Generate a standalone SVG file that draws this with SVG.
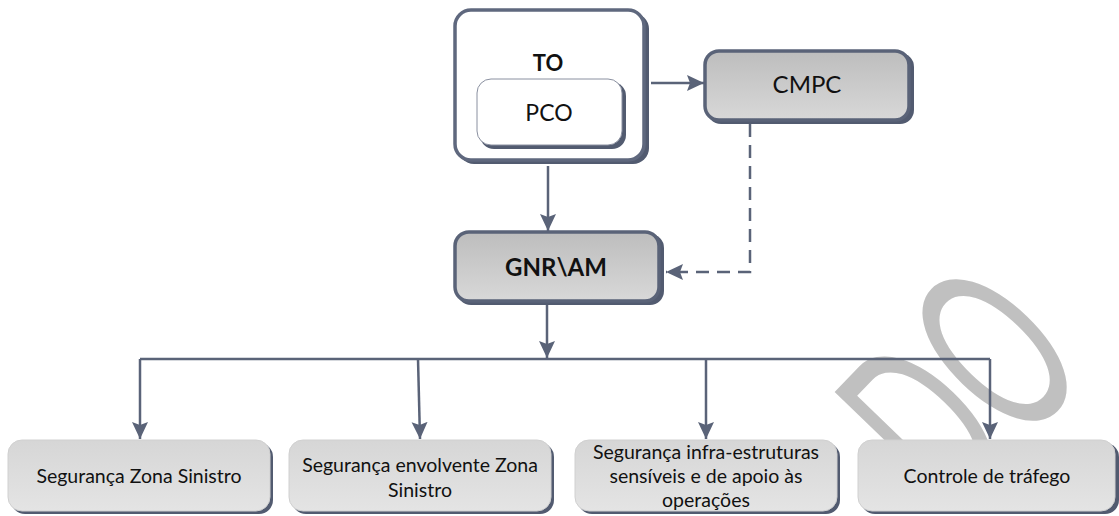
<svg xmlns="http://www.w3.org/2000/svg" width="1119" height="516" viewBox="0 0 1119 516">
  <defs>
    <linearGradient id="gDark" x1="0" y1="0" x2="0" y2="1">
      <stop offset="0" stop-color="#bdbdbd"/>
      <stop offset="1" stop-color="#d8d8d8"/>
    </linearGradient>
    <linearGradient id="gLight" x1="0" y1="0" x2="0" y2="1">
      <stop offset="0" stop-color="#d6d6d6"/>
      <stop offset="1" stop-color="#e4e4e4"/>
    </linearGradient>
    <marker id="arr" viewBox="0 0 18 18" refX="17" refY="9" markerWidth="18" markerHeight="18" markerUnits="userSpaceOnUse" orient="auto">
      <path d="M0,1 L17,9 L0,17 L3,9 z" fill="#5a6378"/>
    </marker>
    <style>
      .lbl { font-family: Lato, "Open Sans", "Liberation Sans", sans-serif; fill: #111; text-anchor: middle; }
      .b { font-weight: bold; }
      .sm { font-size: 19.5px; }
      .shadow { fill: #525b70; }
      .gray { fill: url(#gDark); stroke: #5a6378; stroke-width: 3.5; }
      .leaf { fill: url(#gLight); stroke: #d0d0d0; stroke-width: 1; }
      .conn { fill: none; stroke: #5a6378; stroke-width: 2.5; }
      .dash { stroke-dasharray: 13 8; }
    </style>
  </defs>

  <g id="watermark">
    <text transform="translate(950,520) rotate(-46) scale(0.55,1)" font-family="Lato, 'Open Sans', sans-serif" font-size="240" fill="#c0c0c0">DO</text>
  </g>

  <g id="node-TO">
    <rect x="458" y="13" width="191" height="151" rx="16" class="shadow"/>
    <rect x="455" y="10" width="189" height="150" rx="16" fill="#ffffff" stroke="#5f687e" stroke-width="3.5"/>
    <text x="548" y="71" class="lbl b" font-size="22">TO</text>
  </g>

  <g id="node-PCO">
    <rect x="480" y="82" width="146" height="67" rx="14" class="shadow"/>
    <rect x="477" y="79" width="145" height="66" rx="14" fill="#ffffff" stroke="#8a90a0" stroke-width="1"/>
    <text x="549" y="121" class="lbl" font-size="23">PCO</text>
  </g>

  <g id="node-CMPC">
    <rect x="707" y="53" width="207" height="71" rx="14" class="shadow"/>
    <rect x="705" y="51" width="204" height="69" rx="14" class="gray"/>
    <text x="807" y="93" class="lbl" font-size="24">CMPC</text>
  </g>

  <g id="node-GNRAM">
    <rect x="457" y="234" width="207" height="71" rx="14" class="shadow"/>
    <rect x="455" y="232" width="204" height="69" rx="14" class="gray"/>
    <text x="556" y="276" class="lbl b" font-size="24">GNR\AM</text>
  </g>

  <g id="node-seg-zona">
    <rect x="11" y="443" width="262" height="71" rx="14" class="shadow"/>
    <rect x="8" y="440" width="262" height="71" rx="14" class="leaf"/>
    <text x="139" y="483" class="lbl sm">Segurança Zona Sinistro</text>
  </g>

  <g id="node-seg-envolvente">
    <rect x="292" y="443" width="262" height="71" rx="14" class="shadow"/>
    <rect x="289" y="440" width="262" height="71" rx="14" class="leaf"/>
    <text x="420" y="472" class="lbl sm">Segurança envolvente Zona</text>
    <text x="420" y="497" class="lbl sm">Sinistro</text>
  </g>

  <g id="node-seg-infra">
    <rect x="578" y="443" width="262" height="71" rx="14" class="shadow"/>
    <rect x="575" y="440" width="262" height="71" rx="14" class="leaf"/>
    <text x="706" y="459" class="lbl sm">Segurança infra-estruturas</text>
    <text x="706" y="483" class="lbl sm">sensíveis e de apoio às</text>
    <text x="706" y="507" class="lbl sm">operações</text>
  </g>

  <g id="node-controle">
    <rect x="861" y="443" width="258" height="71" rx="14" class="shadow"/>
    <rect x="858" y="440" width="257" height="71" rx="14" class="leaf"/>
    <text x="987" y="483" class="lbl sm">Controle de tráfego</text>
  </g>

  <g id="connectors">
    <path class="conn" d="M651,83 H704" marker-end="url(#arr)"/>
    <path class="conn" d="M548,166 V231" marker-end="url(#arr)"/>
    <path class="conn dash" d="M750,124 V272 H666" marker-end="url(#arr)"/>
    <path class="conn" d="M547,305 V358" marker-end="url(#arr)"/>
    <path class="conn" d="M140,359 H990"/>
    <path class="conn" d="M140,359 V439" marker-end="url(#arr)"/>
    <path class="conn" d="M418,359 L420,439" marker-end="url(#arr)"/>
    <path class="conn" d="M706,359 V439" marker-end="url(#arr)"/>
    <path class="conn" d="M990,359 V439" marker-end="url(#arr)"/>
  </g>
</svg>
